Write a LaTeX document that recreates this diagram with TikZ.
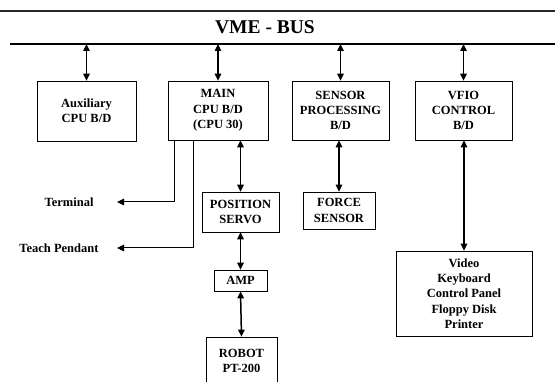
\documentclass[tikz,border=0pt]{standalone}
\usepackage{fontspec}
\setmainfont{Liberation Serif}
\usetikzlibrary{arrows.meta,positioning}

\begin{document}
\begin{tikzpicture}[
    x=1pt,
    y=-1pt,
    >={Triangle[length=7pt,width=6.5pt]},
    every node/.style={font=\fontsize{12.5}{15.3}\selectfont\bfseries},
    board/.style={draw,line width=0.7pt,align=center,inner sep=0pt},
    busarrow/.style={<->,line width=1.5pt},
    sidearrow/.style={->,line width=1pt}
]
\useasboundingbox (0,0) rectangle (555,382);

% Bus
\draw[line width=1.2pt,black!85] (0,11) -- (555,11);
\draw[line width=2.6pt] (10,44) coordinate (busL) -- (555,44) coordinate (busR);
\node[font=\fontsize{19.5}{20}\selectfont\bfseries] (busname) at (265,27) {VME - BUS};

% Boards on the bus
\node[board,minimum width=99pt,minimum height=60pt] (aux) at (86.5,111)
    {Auxiliary\\CPU B/D};
\node[board,minimum width=100pt,minimum height=59pt] (main) at (218,110.5)
    {MAIN\\CPU B/D\\(CPU 30)};
\node[board,minimum width=97pt,minimum height=59pt] (sensor) at (340.5,110.5)
    {SENSOR\\PROCESSING\\B/D};
\node[board,minimum width=97pt,minimum height=59pt] (vfio) at (463.5,110.5)
    {VFIO\\CONTROL\\B/D};

\draw[busarrow] (aux.north) -- (aux.north |- busL);
\draw[busarrow] (main.north) -- (main.north |- busL);
\draw[busarrow] (sensor.north) -- (sensor.north |- busL);
\draw[busarrow] (vfio.north) -- (vfio.north |- busL);

% Servo chain
\node[board,minimum width=77pt,minimum height=40pt] (servo) at (240.5,212)
    {POSITION\\SERVO};
\node[board,minimum width=53pt,minimum height=21pt] (amp) at (240.5,280.5)
    {AMP};
\node[board,minimum width=71pt,minimum height=48pt] (robot) at (241.5,361)
    {ROBOT\\PT-200};

\draw[busarrow] (servo.north) -- (servo.north |- main.south);
\draw[busarrow] (amp.north) -- (servo.south);
\draw[busarrow] (robot.north) -- (amp.south);

% Sensor
\node[board,minimum width=72pt,minimum height=37pt] (force) at (339,210.5)
    {FORCE\\SENSOR};
\draw[busarrow] (force.north) -- (force.north |- sensor.south);

% Peripherals
\node[board,minimum width=136pt,minimum height=85pt] (devices) at (464,293.5)
    {Video\\Keyboard\\Control Panel\\Floppy Disk\\Printer};
\draw[busarrow] (devices.north) -- (devices.north |- vfio.south);

% Serial lines
\node[anchor=east] (term) at (97,202) {Terminal};
\node[anchor=east] (teach) at (102,248) {Teach Pendant};
\draw[sidearrow] ([xshift=7pt]main.south west) |- ([xshift=20pt]term.east);
\draw[sidearrow] ([xshift=26pt]main.south west) |- ([xshift=15pt]teach.east);

\end{tikzpicture}
\end{document}
